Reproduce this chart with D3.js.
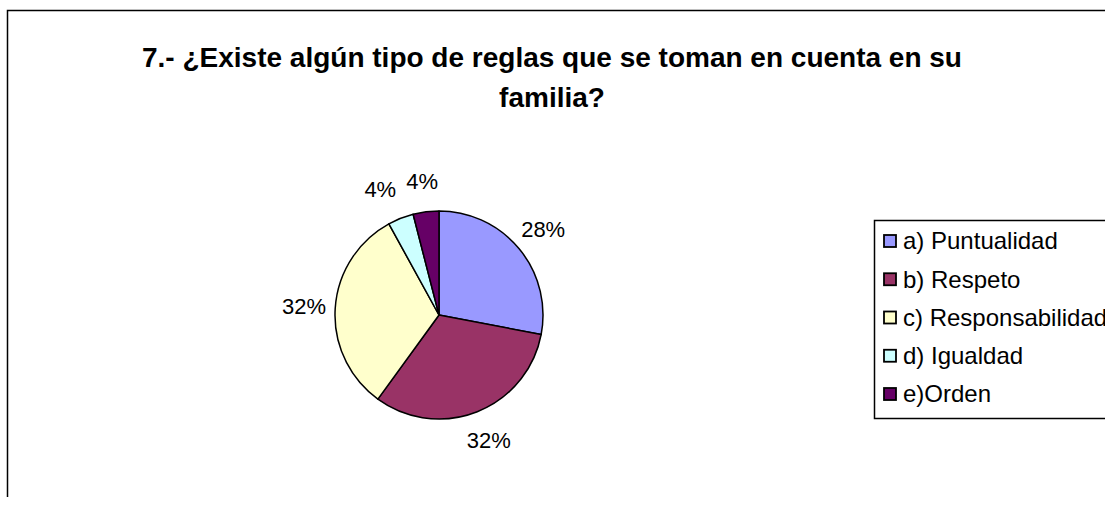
<!DOCTYPE html>
<html><head><meta charset="utf-8">
<script src="https://cdn.jsdelivr.net/npm/d3@7"></script>
<style>html,body{margin:0;padding:0;background:#fff;overflow:hidden}</style>
</head><body>
<svg id="c" width="1105" height="507"></svg>
<script>
const titleLines = ["7.- ¿Existe algún tipo de reglas que se toman en cuenta en su", "familia?"];
const categories = ["a) Puntualidad", "b) Respeto", "c) Responsabilidad", "d) Igualdad", "e)Orden"];
const values = [28, 32, 32, 4, 4];
const colors = ["#9999FF", "#993366", "#FFFFCC", "#CCFFFF", "#660066"];

const svg = d3.select("#c");
const font = "'Liberation Sans', Arial, sans-serif";

svg.append("path").attr("d", "M7.5,497V10.5H1110")
  .attr("fill", "none").attr("stroke", "#000").attr("stroke-width", 1.5);

svg.append("g").selectAll("text").data(titleLines).join("text")
  .attr("x", 552).attr("y", (d, i) => 67 + i * 40)
  .attr("text-anchor", "middle").attr("font-family", font).attr("font-weight", "bold")
  .attr("font-size", 28).text(d => d);

const cx = 439, cy = 315, r = 104;
const pie = d3.pie().sort(null).value(d => d);
const arcs = pie(values);
const arc = d3.arc().innerRadius(0).outerRadius(r);
const labelArc = d3.arc().innerRadius(r * 1.3).outerRadius(r * 1.3);
const total = d3.sum(values);

const g = svg.append("g").attr("transform", `translate(${cx},${cy})`);
g.selectAll("path").data(arcs).join("path")
  .attr("d", arc).attr("fill", (d, i) => colors[i])
  .attr("stroke", "#000").attr("stroke-width", 1.5).attr("stroke-linejoin", "round");

const labelFs = 22, gap = 10;
const labels = arcs.map(d => {
  const [x, y] = labelArc.centroid(d);
  return { x, y, text: Math.round(d.data / total * 100) + "%" };
});
const lt = g.selectAll("text").data(labels).join("text")
  .attr("text-anchor", "middle").attr("dy", "0.35em")
  .attr("font-family", font).attr("font-size", labelFs)
  .text(d => d.text);
lt.each(function(d) { d.w = this.getComputedTextLength(); });
// simple overlap resolution: push the earlier label to the left
for (let i = labels.length - 1; i > 0; i--) {
  const a = labels[i - 1], b = labels[i];
  if (Math.abs(a.y - b.y) < labelFs && a.x < b.x && b.x - a.x < (a.w + b.w) / 2 + gap) {
    a.x = b.x - (a.w + b.w) / 2 - gap;
  }
}
lt.attr("x", d => d.x).attr("y", d => d.y);

const lg = svg.append("g");
lg.append("rect").attr("x", 874.5).attr("y", 220.5).attr("width", 300).attr("height", 198)
  .attr("fill", "#fff").attr("stroke", "#000").attr("stroke-width", 1.5);
const rowY = d3.scalePoint().domain(categories).range([241, 394]);
const items = lg.selectAll("g").data(categories).join("g")
  .attr("transform", d => `translate(0,${rowY(d)})`);
items.append("rect").attr("x", 884).attr("y", -6).attr("width", 12).attr("height", 12)
  .attr("fill", (d, i) => colors[i]).attr("stroke", "#000").attr("stroke-width", 1.8);
items.append("text").attr("x", 903).attr("y", 0).attr("dy", "0.35em")
  .attr("font-family", font).attr("font-size", 24).text(d => d);
</script>
</body></html>
